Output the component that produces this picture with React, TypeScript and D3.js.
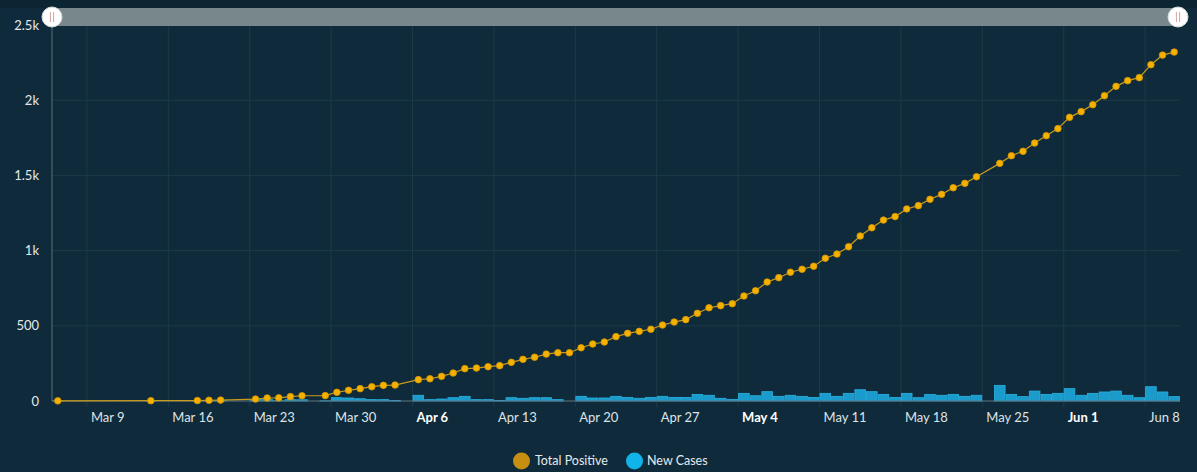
import React from "react";
import * as d3 from "d3";

// dates with a report (some days are missing)
const dates = [
  "2020-03-06", "2020-03-14", "2020-03-18", "2020-03-19", "2020-03-20",
  "2020-03-23", "2020-03-24", "2020-03-25", "2020-03-26", "2020-03-27",
  "2020-03-29", "2020-03-30", "2020-03-31", "2020-04-01", "2020-04-02",
  "2020-04-03", "2020-04-04",
  "2020-04-06", "2020-04-07", "2020-04-08", "2020-04-09", "2020-04-10",
  "2020-04-11", "2020-04-12", "2020-04-13", "2020-04-14", "2020-04-15",
  "2020-04-16", "2020-04-17", "2020-04-18", "2020-04-19", "2020-04-20",
  "2020-04-21", "2020-04-22", "2020-04-23", "2020-04-24", "2020-04-25",
  "2020-04-26", "2020-04-27", "2020-04-28", "2020-04-29", "2020-04-30",
  "2020-05-01", "2020-05-02", "2020-05-03", "2020-05-04", "2020-05-05",
  "2020-05-06", "2020-05-07", "2020-05-08", "2020-05-09", "2020-05-10",
  "2020-05-11", "2020-05-12", "2020-05-13", "2020-05-14", "2020-05-15",
  "2020-05-16", "2020-05-17", "2020-05-18", "2020-05-19", "2020-05-20",
  "2020-05-21", "2020-05-22", "2020-05-23", "2020-05-24",
  "2020-05-26", "2020-05-27", "2020-05-28", "2020-05-29", "2020-05-30",
  "2020-05-31", "2020-06-01", "2020-06-02", "2020-06-03", "2020-06-04",
  "2020-06-05", "2020-06-06", "2020-06-07", "2020-06-08", "2020-06-09",
  "2020-06-10",
];

const totalPositive = [
  1, 2, 3, 5, 6,
  13, 20, 21, 29, 35,
  36, 58, 71, 82, 95,
  104, 106,
  142, 148, 164, 186, 215,
  219, 228, 235, 257, 277,
  291, 312, 321, 321, 354,
  379, 392, 428, 450, 463,
  477, 505, 525, 541, 583,
  620, 634, 647, 698, 733,
  791, 820, 856, 876, 896,
  949, 977, 1026, 1097, 1152,
  1203, 1226, 1277, 1299, 1341,
  1374, 1418, 1447, 1491,
  1580, 1631, 1660, 1715, 1764,
  1811, 1886, 1924, 1970, 2030,
  2092, 2130, 2150, 2236, 2300,
  2320,
];

const newCases = [
  1, 1, 1, 2, 1,
  10, 9, 2, 9, 8,
  1, 22, 20, 15, 9,
  9, 3,
  38, 9, 13, 22, 31,
  9, 9, 4, 22, 18,
  22, 22, 9, 0, 31,
  20, 20, 31, 24, 18,
  24, 31, 24, 24, 44,
  38, 18, 11, 51, 35,
  62, 31, 38, 31, 24,
  51, 31, 51, 75, 62,
  44, 24, 51, 22, 44,
  38, 44, 31, 38,
  104, 44, 29, 66, 44,
  51, 82, 38, 51, 60,
  66, 38, 22, 95, 60,
  29,
];

const yTicks = [0, 500, 1000, 1500, 2000, 2500];
const yTickLabels = ["0", "500", "1k", "1.5k", "2k", "2.5k"];

const legendItems = ["Total Positive", "New Cases"];

const width = 1197;
const height = 472;
const left = 52;
const right = 1180;
const top = 25;
const bottom = 401;

const bg = "#0f2b3b";
const gridColor = "#1d3a48";
const lineColor = "#c99a1c";
const dotColor = "#f5b100";
const barFill = "#1a9bcb";
const barStroke = "#28b2e2";
const font = "Lato, 'Noto Sans', sans-serif";

const DAY = 24 * 3600 * 1000;

export default function App() {
  const parse = d3.utcParse("%Y-%m-%d");
  const rows = dates.map((d, i) => ({
    day: parse(d) as Date,
    total: totalPositive[i],
    cases: newCases[i],
  }));

  const x = d3
    .scaleUtc()
    .domain([new Date(Date.UTC(2020, 2, 6)), new Date(Date.UTC(2020, 5, 11))])
    .range([left, right]);
  const y = d3.scaleLinear().domain([0, 2500]).range([bottom, top]);

  const mid = (d: Date) => x(new Date(d.getTime() + DAY / 2));

  const line = d3
    .line<{ day: Date; total: number }>()
    .x((d) => mid(d.day))
    .y((d) => y(d.total));

  const weekTicks = x.ticks(d3.utcMonday.every(1) as any).filter((t) => x(t) > left + 5);
  const fmt = d3.utcFormat("%b %-d");

  return (
    <svg
      width={width}
      height={height}
      style={{ position: "absolute", left: 0, top: 0, display: "block" }}
      fontFamily={font}
    >
      <rect x={0} y={0} width={width} height={height} fill={bg} />
      <rect x={0} y={0} width={width} height={8} fill="#0c2533" />

      {/* grid */}
      {yTicks.map((t) => (
        <line key={"gy" + t} x1={left} x2={right} y1={y(t)} y2={y(t)} stroke={gridColor} strokeWidth={1} />
      ))}
      {weekTicks.map((t) => (
        <line key={"gx" + t.getTime()} x1={x(t)} x2={x(t)} y1={top} y2={bottom + 6} stroke={gridColor} strokeWidth={1} />
      ))}

      {/* new cases bars */}
      {rows.map((d) =>
        d.cases > 0 ? (
          <rect
            key={"b" + d.day.getTime()}
            x={x(d.day) + 0.5}
            y={y(d.cases)}
            width={x(new Date(d.day.getTime() + DAY)) - x(d.day) - 1}
            height={y(0) - y(d.cases)}
            fill={barFill}
            stroke={barStroke}
            strokeWidth={0.8}
          />
        ) : null
      )}

      {/* axes lines */}
      <line x1={left} x2={right} y1={bottom} y2={bottom} stroke="#5b6e78" strokeWidth={1} />
      <line x1={left} x2={left} y1={top} y2={bottom} stroke="#5b6e78" strokeWidth={1} />

      {/* total positive line */}
      <path d={line(rows) || ""} fill="none" stroke={lineColor} strokeWidth={1.2} />
      {rows.map((d) => (
        <circle
          key={"c" + d.day.getTime()}
          cx={mid(d.day)}
          cy={y(d.total)}
          r={3.3}
          fill={dotColor}
          stroke="#d69400"
          strokeWidth={0.8}
        />
      ))}

      {/* y axis labels */}
      {yTicks.map((t, i) => (
        <text
          key={"ty" + t}
          x={39}
          y={y(t)}
          dy="0.35em"
          textAnchor="end"
          fontSize={13}
          fill="#e4e8eb"
        >
          {yTickLabels[i]}
        </text>
      ))}

      {/* x axis labels */}
      {weekTicks.map((t, i) => {
        const bold = i > 0 && t.getUTCDate() <= 7;
        return (
          <text
            key={"tx" + t.getTime()}
            x={x(t) + 4}
            y={417}
            dy="0.35em"
            fontSize={13}
            fontWeight={bold ? 700 : 400}
            fill={bold ? "#ffffff" : "#dfe3e6"}
          >
            {fmt(t)}
          </text>
        );
      })}

      {/* scrollbar */}
      <rect x={left} y={8} width={right - left} height={18} fill="#77878c" />
      {[left, right - 2].map((cx) => (
        <g key={"grip" + cx}>
          <circle cx={cx} cy={17} r={10} fill="#ffffff" stroke="#d5dadc" strokeWidth={1} />
          <line x1={cx - 1.6} x2={cx - 1.6} y1={12} y2={22} stroke="#d8a1a1" strokeWidth={1} />
          <line x1={cx + 1.6} x2={cx + 1.6} y1={12} y2={22} stroke="#d8a1a1" strokeWidth={1} />
        </g>
      ))}

      {/* legend */}
      <g>
        <circle cx={521.5} cy={461} r={8.5} fill="#c68f12" />
        <text x={535} y={461} dy="0.35em" fontSize={12.5} fill="#e6e9ec">
          {legendItems[0]}
        </text>
        <circle cx={634.5} cy={461} r={8.5} fill="#12b3e8" />
        <text x={647} y={461} dy="0.35em" fontSize={12.5} fill="#e6e9ec">
          {legendItems[1]}
        </text>
      </g>
    </svg>
  );
}
